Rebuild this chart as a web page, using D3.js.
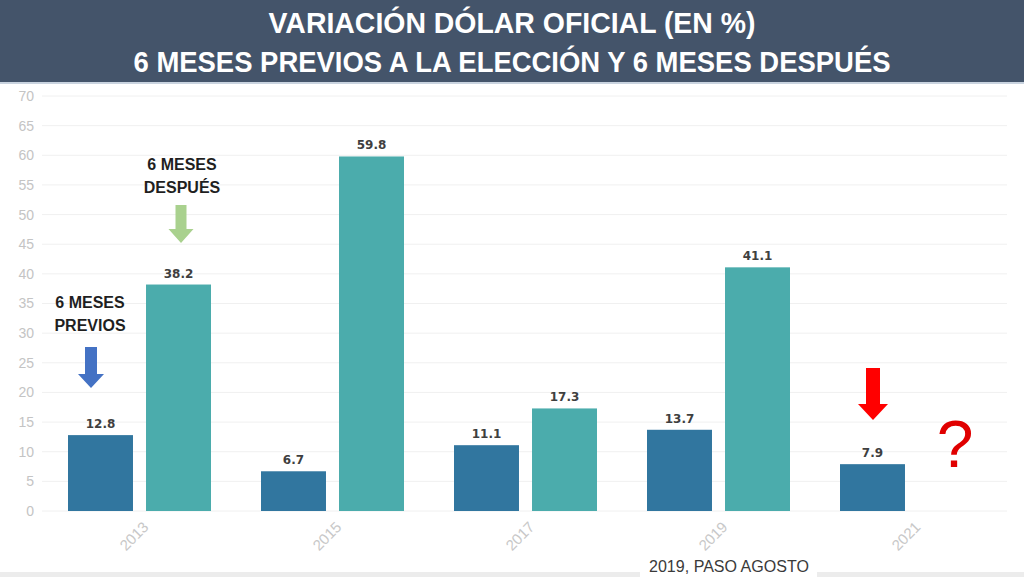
<!DOCTYPE html>
<html><head><meta charset="utf-8">
<script src="https://cdn.jsdelivr.net/npm/d3@7/dist/d3.min.js"></script>
<style>html,body{margin:0;padding:0;background:#fff;overflow:hidden}</style>
</head><body>
<script>
const years = ["2013","2015","2017","2019","2021"];
const previos = [12.8, 6.7, 11.1, 13.7, 7.9];
const despues = [38.2, 59.8, 17.3, 41.1, null];
const yTicks = [0,5,10,15,20,25,30,35,40,45,50,55,60,65,70];
const titleLines = ["VARIACIÓN DÓLAR OFICIAL (EN %)", "6 MESES PREVIOS A LA ELECCIÓN Y 6 MESES DESPUÉS"];

const W = 1024, H = 577;
const svg = d3.select("body").append("svg").attr("width", W).attr("height", H);

// title band
svg.append("rect").attr("x",0).attr("y",0).attr("width",W).attr("height",82).attr("fill","#44546a");
svg.append("rect").attr("x",0).attr("y",82).attr("width",W).attr("height",2).attr("fill","#c9d3df");
const tf = "'Liberation Sans Narrow','Arial Narrow','Liberation Sans',sans-serif";
svg.append("text").attr("x",512).attr("y",33).attr("text-anchor","middle")
  .attr("font-family",tf).attr("font-weight","bold").attr("font-size",29).attr("fill","#fff")
  .attr("textLength",487).attr("lengthAdjust","spacingAndGlyphs").text(titleLines[0]);
svg.append("text").attr("x",512).attr("y",72).attr("text-anchor","middle")
  .attr("font-family",tf).attr("font-weight","bold").attr("font-size",29).attr("fill","#fff")
  .attr("textLength",757).attr("lengthAdjust","spacingAndGlyphs").text(titleLines[1]);

// scales
const y = d3.scaleLinear().domain([0,70]).range([511,96]);
const x = d3.scaleBand().domain(years).range([43,1008]).paddingInner(0).paddingOuter(0);
const inner = d3.scaleBand().domain(["p","d"]).range([25, x.bandwidth()-25]).paddingInner(0.167);

// gridlines
svg.append("g").selectAll("line").data(yTicks).join("line")
  .attr("x1",42).attr("x2",1007).attr("y1",d=>y(d)).attr("y2",d=>y(d))
  .attr("stroke","#f0f0f0").attr("stroke-width",1);

// y axis
const yAxis = d3.axisLeft(y).tickValues(yTicks).tickSize(0).tickPadding(0);
const gy = svg.append("g").attr("transform","translate(34,0)").call(yAxis);
gy.select(".domain").remove();
gy.selectAll("text").attr("font-family","'Liberation Sans',Arial,sans-serif").attr("font-size",14).attr("fill","#c4c4c4");

// x axis
const xAxis = d3.axisBottom(x).tickSize(0).tickPadding(0);
const gx = svg.append("g").attr("transform","translate(0,511)").call(xAxis);
gx.select(".domain").remove();
gx.selectAll("text").attr("font-family","'Liberation Sans',Arial,sans-serif").attr("font-size",15)
  .attr("fill","#c8c8c8").attr("text-anchor","end").attr("dy",0)
  .attr("transform","translate(10,17) rotate(-45)");

// bars
const rows = years.map((yr,i)=>({yr, p:previos[i], d:despues[i]}));
const series = [{k:"p", col:"#31769f"},{k:"d", col:"#4bacac"}];
series.forEach(s=>{
  const data = rows.filter(r=>r[s.k]!=null);
  svg.append("g").selectAll("rect").data(data).join("rect")
    .attr("x",r=>x(r.yr)+inner(s.k)).attr("width",inner.bandwidth())
    .attr("y",r=>y(r[s.k])).attr("height",r=>y(0)-y(r[s.k]))
    .attr("fill",s.col);
  svg.append("g").selectAll("text").data(data).join("text")
    .attr("x",r=>x(r.yr)+inner(s.k)+inner.bandwidth()/2).attr("y",r=>y(r[s.k])-7)
    .attr("text-anchor","middle").attr("font-family","'DejaVu Sans',Verdana,sans-serif")
    .attr("font-weight","bold").attr("font-size",12).attr("fill","#3f3f3f")
    .text(r=>r[s.k].toFixed(1));
});

// arrows
function arrow(cx, top, headStart, tip, shaftW, headW, col){
  const p = [[cx-shaftW/2,top],[cx+shaftW/2,top],[cx+shaftW/2,headStart],[cx+headW/2,headStart],
             [cx,tip],[cx-headW/2,headStart],[cx-shaftW/2,headStart]];
  svg.append("path").attr("d", d3.line()(p)+"Z").attr("fill",col);
}
arrow(181, 205, 229, 243, 11, 25, "#a9d18e");
arrow(91, 347, 374, 388, 12, 26, "#4472c4");
arrow(873, 368, 404, 420, 14, 30, "#ff0000");

// annotation labels
const af = "'Liberation Sans Narrow','Arial Narrow','Liberation Sans',sans-serif";
function lab(cx, yy, t){
  svg.append("text").attr("x",cx).attr("y",yy).attr("text-anchor","middle").attr("font-family",af)
    .attr("font-weight","bold").attr("font-size",16).attr("fill","#1f1f1f").text(t);
}
lab(182,170,"6 MESES"); lab(182,193,"DESPUÉS");
lab(90,308,"6 MESES"); lab(90,331,"PREVIOS");

svg.append("text").attr("x",955).attr("y",467).attr("text-anchor","middle")
  .attr("font-family","'Liberation Sans',Arial,sans-serif").attr("font-size",66).attr("fill","#e00000").text("?");

// bottom strip & note
svg.append("rect").attr("x",0).attr("y",572).attr("width",W).attr("height",5).attr("fill","#ececec");
svg.append("rect").attr("x",640).attr("y",552).attr("width",177).attr("height",25).attr("fill","#fff");
svg.append("text").attr("x",649).attr("y",572)
  .attr("font-family",af).attr("font-size",16).attr("fill","#3a3a3a")
  .attr("textLength",160).attr("lengthAdjust","spacingAndGlyphs").text("2019,  PASO AGOSTO");
</script>
</body></html>
